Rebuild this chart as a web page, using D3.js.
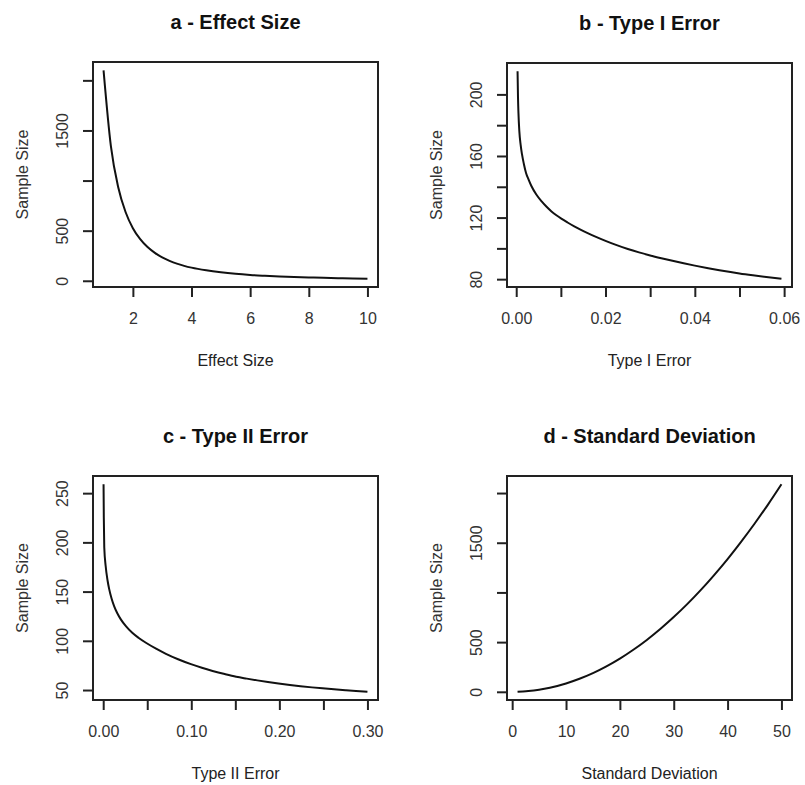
<!DOCTYPE html>
<html>
<head>
<meta charset="utf-8">
<script src="https://cdn.jsdelivr.net/npm/d3@7"></script>
<style>
  html, body { margin: 0; padding: 0; background: #fff; }
  svg { display: block; font-family: "Liberation Sans", Arial, sans-serif; }
</style>
</head>
<body>
<svg id="chart" width="805" height="785"></svg>
<script>
// ---- Data ----
const effectSize = [1.00,1.25,1.50,1.75,2.00,2.25,2.50,2.75,3.00,3.25,3.50,3.75,4.00,4.50,5.00,5.50,6.00,6.50,7.00,7.50,8.00,8.50,9.00,9.50,10.0];
const nEffect    = [2100,1344,933,686,525,415,336,278,233,199,171,149,131,104,84,69,58,50,43,37,33,29,26,23,21];

const typeIError = [0.0003,0.0004,0.0005,0.0007,0.0010,0.0013,0.0017,0.0022,0.0028,0.0034,0.0045,0.0057,0.0068,0.0079,0.0090,0.0101,0.0115,0.0130,0.0145,0.0160,0.0180,0.0200,0.0225,0.0250,0.0275,0.0300,0.0325,0.0350,0.0375,0.0400,0.0430,0.0455,0.0480,0.0500,0.0530,0.0560,0.0594];
const nTypeI     = [215,198,188,176,167,161,155,149,144.5,140.5,135,130.5,127,124,121.5,119.3,116.8,114.3,112.0,109.9,107.3,104.9,102.1,99.6,97.4,95.4,93.6,91.9,90.3,88.8,87.1,85.8,84.6,83.7,82.5,81.4,80.3];

const typeIIError = [0.0004,0.0007,0.0012,0.0028,0.0050,0.0068,0.0095,0.0125,0.0160,0.0200,0.0260,0.0330,0.0400,0.0485,0.0600,0.0712,0.0850,0.0996,0.1120,0.1242,0.1380,0.1510,0.1630,0.1750,0.1870,0.1990,0.2120,0.2240,0.2370,0.2490,0.2620,0.2750,0.2870,0.3000];
const nTypeII     = [259,225,195,176,161,152.5,143,135,128,121.8,114.6,108.1,103.1,98.0,92.0,86.8,81.3,76.3,72.6,69.4,66.2,63.5,61.6,59.8,58.1,56.6,55.1,53.9,52.7,51.7,50.7,49.8,49.0,48.3];

const stdDev  = [1,2,3,5,7,10,12.5,15,17.5,20,22.5,25,27.5,30,32.5,35,37.5,40,42.5,45,47.5,50];
const nStdDev = [1,4,8,21,41,84,131,188,256,334,423,522,632,752,882,1023,1175,1336,1509,1691,1884,2088];

// ---- Tick values and labels ----
const xTicksA = [2,4,6,8,10];           const xLabelsA = ["2","4","6","8","10"];
const yTicksA = [0,500,1000,1500,2000]; const yLabelsA = ["0","500","","1500",""];
const xTicksB = [0,0.01,0.02,0.03,0.04,0.05,0.06]; const xLabelsB = ["0.00","","0.02","","0.04","","0.06"];
const yTicksB = [80,100,120,140,160,180,200];      const yLabelsB = ["80","","120","","160","","200"];
const xTicksC = [0,0.05,0.10,0.15,0.20,0.25,0.30]; const xLabelsC = ["0.00","","0.10","","0.20","","0.30"];
const yTicksC = [50,100,150,200,250];              const yLabelsC = ["50","100","150","200","250"];
const xTicksD = [0,10,20,30,40,50];                const xLabelsD = ["0","10","20","30","40","50"];
const yTicksD = [0,500,1000,1500,2000];            const yLabelsD = ["0","500","","1500",""];

const titles  = ["a - Effect Size","b - Type I Error","c - Type II Error","d - Standard Deviation"];
const xTitles = ["Effect Size","Type I Error","Type II Error","Standard Deviation"];
const yTitle  = "Sample Size";

// ---- Layout ----
const panels = [
  {x: effectSize,  y: nEffect, xt: xTicksA, xl: xLabelsA, yt: yTicksA, yl: yLabelsA, box: [93, 62, 378, 287]},
  {x: typeIError,  y: nTypeI,  xt: xTicksB, xl: xLabelsB, yt: yTicksB, yl: yLabelsB, box: [507, 63, 792, 287]},
  {x: typeIIError, y: nTypeII, xt: xTicksC, xl: xLabelsC, yt: yTicksC, yl: yLabelsC, box: [93, 476, 378, 700]},
  {x: stdDev,      y: nStdDev, xt: xTicksD, xl: xLabelsD, yt: yTicksD, yl: yLabelsD, box: [507, 476, 792, 700]}
];

const svg = d3.select("#chart");
svg.append("rect").attr("width", 805).attr("height", 785).attr("fill", "#fff");

function rDomain(vals) {
  const [lo, hi] = d3.extent(vals);
  const pad = (hi - lo) * 0.04;
  return [lo - pad, hi + pad];
}

panels.forEach((p, i) => {
  const [L, T, R, B] = p.box;
  const x = d3.scaleLinear().domain(rDomain(p.x)).range([L, R]);
  const y = d3.scaleLinear().domain(rDomain(p.y)).range([B, T]);
  const g = svg.append("g");

  // curve
  const pts = p.x.map((v, k) => [v, p.y[k]]);
  g.append("path")
    .datum(pts)
    .attr("fill", "none")
    .attr("stroke", "#111")
    .attr("stroke-width", 2)
    .attr("stroke-linejoin", "round")
    .attr("d", d3.line().x(d => x(d[0])).y(d => y(d[1])).curve(d3.curveMonotoneX));

  // x axis
  const xa = g.append("g").attr("transform", `translate(0,${B})`)
    .call(d3.axisBottom(x).tickValues(p.xt).tickSize(10).tickFormat((d, k) => p.xl[k]));
  xa.select(".domain").remove();
  xa.selectAll("line").attr("stroke", "#222").attr("stroke-width", 2);
  xa.selectAll("text").attr("y", 31).attr("dy", "0.36em")
    .attr("font-size", 16).attr("fill", "#333")
    .attr("font-family", "'Liberation Sans', Arial, sans-serif");

  // y axis
  const ya = g.append("g").attr("transform", `translate(${L},0)`)
    .call(d3.axisLeft(y).tickValues(p.yt).tickSize(10).tickFormat((d, k) => p.yl[k]));
  ya.select(".domain").remove();
  ya.selectAll("line").attr("stroke", "#222").attr("stroke-width", 2);
  ya.selectAll("text")
    .attr("transform", "rotate(-90)")
    .attr("x", 0).attr("y", -31).attr("dy", "0.36em")
    .attr("text-anchor", "middle")
    .attr("font-size", 16).attr("fill", "#333")
    .attr("font-family", "'Liberation Sans', Arial, sans-serif");

  // box
  g.append("rect")
    .attr("x", L).attr("y", T).attr("width", R - L).attr("height", B - T)
    .attr("fill", "none").attr("stroke", "#222").attr("stroke-width", 2);

  // titles
  g.append("text")
    .attr("x", (L + R) / 2).attr("y", T - 40).attr("dy", "0.36em")
    .attr("text-anchor", "middle").attr("font-weight", "bold")
    .attr("font-size", 20).attr("fill", "#111")
    .text(titles[i]);

  g.append("text")
    .attr("x", (L + R) / 2).attr("y", B + 73).attr("dy", "0.36em")
    .attr("text-anchor", "middle")
    .attr("font-size", 16).attr("fill", "#222")
    .text(xTitles[i]);

  g.append("text")
    .attr("transform", `translate(${L - 71},${(T + B) / 2}) rotate(-90)`)
    .attr("dy", "0.36em")
    .attr("text-anchor", "middle")
    .attr("font-size", 16).attr("fill", "#333")
    .text(yTitle);
});
</script>
</body>
</html>
